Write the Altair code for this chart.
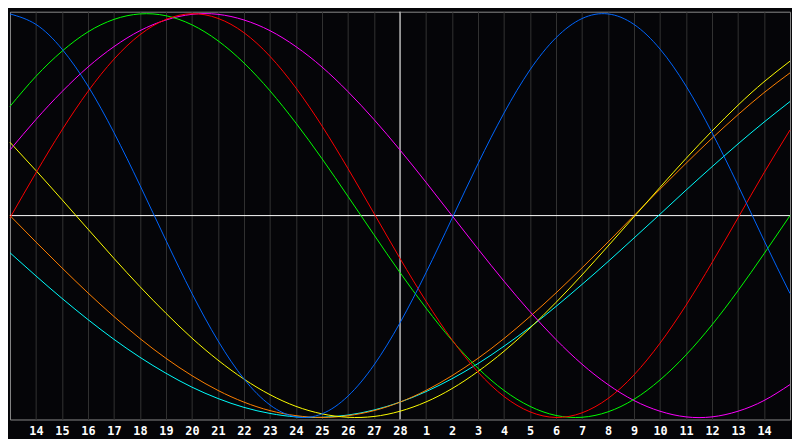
import altair as alt
import pandas as pd

# Day index across the window (0 = left edge, 30 = right edge)
day_index = list(range(31))

# Axis labels for day indices 1..29 (day of month)
day_labels = ["14", "15", "16", "17", "18", "19", "20", "21", "22", "23", "24", "25", "26", "27", "28",
              "1", "2", "3", "4", "5", "6", "7", "8", "9", "10", "11", "12", "13", "14"]
today_index = 15

# Cycle values at each day index
physical = [0.999, 0.947, 0.825, 0.642, 0.411, 0.150, -0.123, -0.386, -0.620, -0.809, -0.938,
            -0.997, -0.982, -0.894, -0.740, -0.531, -0.283, -0.014, 0.257, 0.508, 0.722,
            0.881, 0.976, 0.999, 0.947, 0.825, 0.642, 0.411, 0.150, -0.123, -0.386]
emotional = [-0.011, 0.212, 0.424, 0.615, 0.775, 0.896, 0.972, 1.000, 0.977, 0.906, 0.789,
             0.632, 0.444, 0.233, 0.011, -0.212, -0.424, -0.615, -0.775, -0.896, -0.972,
             -1.000, -0.977, -0.906, -0.789, -0.632, -0.444, -0.233, -0.011, 0.212, 0.424]
intellectual = [0.541, 0.690, 0.814, 0.910, 0.972, 0.999, 0.990, 0.945, 0.866, 0.756, 0.618,
                0.458, 0.282, 0.095, -0.095, -0.282, -0.458, -0.618, -0.756, -0.866, -0.945,
                -0.990, -0.999, -0.972, -0.910, -0.814, -0.690, -0.541, -0.372, -0.189, 0.000]
intuitive = [0.325, 0.476, 0.614, 0.736, 0.837, 0.916, 0.969, 0.997, 0.997, 0.969, 0.916,
             0.837, 0.736, 0.614, 0.476, 0.325, 0.165, 0.000, -0.165, -0.325, -0.476,
             -0.614, -0.736, -0.837, -0.916, -0.969, -0.997, -0.997, -0.969, -0.916, -0.837]
aesthetic = [0.363, 0.223, 0.079, -0.067, -0.212, -0.352, -0.484, -0.607, -0.716, -0.810, -0.887,
             -0.945, -0.982, -0.999, -0.995, -0.969, -0.923, -0.857, -0.772, -0.672, -0.557,
             -0.430, -0.294, -0.151, -0.006, 0.140, 0.283, 0.419, 0.547, 0.663, 0.765]
awareness = [0.000, -0.131, -0.259, -0.383, -0.500, -0.609, -0.707, -0.793, -0.866, -0.924, -0.966,
             -0.991, -1.000, -0.991, -0.966, -0.924, -0.866, -0.793, -0.707, -0.609, -0.500,
             -0.383, -0.259, -0.131, 0.000, 0.131, 0.259, 0.383, 0.500, 0.609, 0.707]
spiritual = [-0.184, -0.299, -0.410, -0.515, -0.613, -0.702, -0.781, -0.850, -0.906, -0.950, -0.980,
             -0.997, -0.999, -0.988, -0.963, -0.924, -0.872, -0.808, -0.733, -0.647, -0.553,
             -0.450, -0.341, -0.228, -0.111, 0.007, 0.126, 0.242, 0.355, 0.463, 0.565]

series_names = ["Spiritual", "Awareness", "Aesthetic", "Intuitive", "Intellectual", "Emotional", "Physical"]
series_values = [spiritual, awareness, aesthetic, intuitive, intellectual, emotional, physical]
series_colors = ["#00ffff", "#ff8000", "#ffff00", "#ff00ff", "#00ff00", "#ff0000", "#0066ff"]

rows = []
for order, (name, vals) in enumerate(zip(series_names, series_values)):
    for d, v in zip(day_index, vals):
        rows.append({"d": d, "value": v, "series": name, "order": order})
df = pd.DataFrame(rows)

label_expr = "[" + ",".join("'%s'" % s for s in day_labels) + "][datum.value - 1]"

x_scale = alt.Scale(domain=[0, 30], nice=False, zero=False)
y_scale = alt.Scale(domain=[-1.01, 1.01], nice=False)

x_axis = alt.Axis(values=list(range(1, 30)), grid=True, gridColor="#333333", gridWidth=1,
                  ticks=False, domain=False, labelColor="#ffffff", labelFont="DejaVu Sans Mono",
                  labelFontWeight="bold", labelFontSize=12, labelPadding=6, title=None,
                  labelExpr=label_expr, labelFlush=False)

lines = alt.Chart(df).mark_line(strokeWidth=1, interpolate="natural").encode(
    x=alt.X("d:Q", scale=x_scale, axis=x_axis),
    y=alt.Y("value:Q", scale=y_scale, axis=None),
    color=alt.Color("series:N", scale=alt.Scale(domain=series_names, range=series_colors), legend=None),
    order=alt.Order("order:Q"),
)

zero_line = alt.Chart(pd.DataFrame({"v": [0]})).mark_rule(color="#ffffff", strokeWidth=1).encode(
    y=alt.Y("v:Q", scale=y_scale, axis=None)
)
today_line = alt.Chart(pd.DataFrame({"d": [today_index]})).mark_rule(color="#ffffff", strokeWidth=1).encode(
    x=alt.X("d:Q", scale=x_scale, axis=x_axis)
)

chart = alt.layer(zero_line, today_line, lines).properties(
    width=790, height=413, padding=0, background="#050508"
).configure_view(stroke="#8a8a8a", strokeWidth=1)

chart.save("out.html", embed_options={"renderer": "svg", "actions": False})
